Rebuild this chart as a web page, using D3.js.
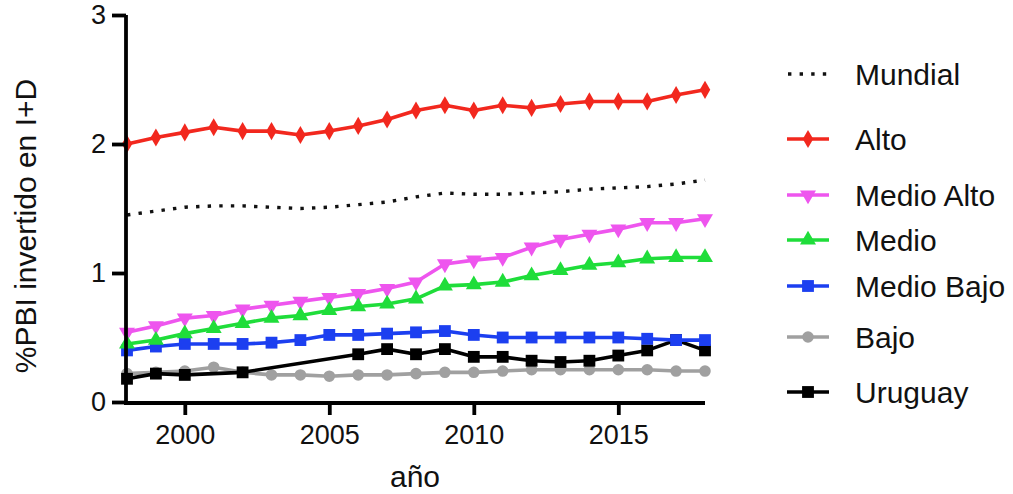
<!DOCTYPE html>
<html>
<head>
<meta charset="utf-8">
<script src="https://cdn.jsdelivr.net/npm/d3@7"></script>
<style>
  body { margin: 0; background: #fff; }
  text { font-family: "Liberation Sans", Arial, Helvetica, sans-serif; fill: #111; }
</style>
</head>
<body>
<svg id="chart" width="1013" height="494"></svg>
<script>
const years = [1998,1999,2000,2001,2002,2003,2004,2005,2006,2007,2008,2009,2010,2011,2012,2013,2014,2015,2016,2017,2018];
const mundial    = [1.45,1.48,1.51,1.52,1.52,1.51,1.50,1.51,1.53,1.55,1.59,1.62,1.61,1.61,1.62,1.63,1.65,1.66,1.67,1.69,1.72];
const alto       = [2.00,2.05,2.09,2.13,2.10,2.10,2.07,2.10,2.14,2.19,2.26,2.30,2.26,2.30,2.28,2.31,2.33,2.33,2.33,2.38,2.42];
const medioAlto  = [0.54,0.59,0.65,0.67,0.72,0.75,0.78,0.81,0.84,0.88,0.93,1.07,1.10,1.12,1.20,1.26,1.30,1.34,1.39,1.39,1.42];
const medio      = [0.45,0.48,0.53,0.57,0.61,0.65,0.67,0.71,0.74,0.76,0.80,0.90,0.91,0.93,0.98,1.02,1.06,1.08,1.11,1.12,1.12];
const medioBajo  = [0.40,0.43,0.45,0.45,0.45,0.46,0.48,0.52,0.52,0.53,0.54,0.55,0.52,0.50,0.50,0.50,0.50,0.50,0.49,0.48,0.48];
const bajo       = [0.22,0.23,0.24,0.27,0.23,0.21,0.21,0.20,0.21,0.21,0.22,0.23,0.23,0.24,0.25,0.25,0.25,0.25,0.25,0.24,0.24];
const uruguay    = [0.18,0.22,0.21,null,0.23,null,null,null,0.37,0.41,0.37,0.41,0.35,0.35,0.32,0.31,0.32,0.36,0.40,0.48,0.40];
const xTicks = [2000,2005,2010,2015];
const yTicks = [0,1,2,3];

const series = [
  {name:"Mundial",     values:mundial,   color:"#111111", symbol:null,               dotted:true},
  {name:"Alto",        values:alto,      color:"#f2281e", symbol:d3.symbolDiamond,   size:95, rot:0},
  {name:"Medio Alto",  values:medioAlto, color:"#ee55ee", symbol:d3.symbolTriangle,  size:110, rot:180},
  {name:"Medio",       values:medio,     color:"#1fdd3a", symbol:d3.symbolTriangle,  size:110, rot:0},
  {name:"Medio Bajo",  values:medioBajo, color:"#1c3ff0", symbol:d3.symbolSquare,    size:140, rot:0},
  {name:"Bajo",        values:bajo,      color:"#a0a0a0", symbol:d3.symbolCircle,    size:105, rot:0},
  {name:"Uruguay",     values:uruguay,   color:"#000000", symbol:d3.symbolSquare,    size:140, rot:0}
];
const drawOrder = ["Mundial","Bajo","Uruguay","Medio Bajo","Medio Alto","Medio","Alto"];

const svg = d3.select("#chart");
const x = d3.scaleLinear().domain([1998, 2018]).range([127, 705]);
const y = d3.scaleLinear().domain([0, 3]).range([402, 15]);

// lines & markers
const line = d3.line().x(d => x(d.year)).y(d => y(d.v));
drawOrder.forEach(n => {
  const s = series.find(q => q.name === n);
  const pts = years.map((yr, i) => ({year: yr, v: s.values[i]})).filter(d => d.v !== null);
  const g = svg.append("g");
  g.append("path").datum(pts)
    .attr("d", line)
    .attr("fill", "none")
    .attr("stroke", s.color)
    .attr("stroke-width", s.dotted ? 3.4 : 3.6)
    .attr("stroke-dasharray", s.dotted ? "3.4,8.2" : null)
    .attr("stroke-linejoin", "round");
  if (s.symbol) {
    g.selectAll("path.m").data(pts).enter().append("path")
      .attr("class", "m")
      .attr("d", d3.symbol().type(s.symbol).size(s.size))
      .attr("transform", d => `translate(${x(d.year)},${y(d.v)}) rotate(${s.rot})`)
      .attr("fill", s.color);
  }
});

// axes
const xAxis = svg.append("g").attr("transform", "translate(0,403)")
  .call(d3.axisBottom(x).tickValues(xTicks).tickFormat(d3.format("d")).tickSize(12).tickSizeOuter(0).tickPadding(10));
const yAxis = svg.append("g").attr("transform", "translate(126,0)")
  .call(d3.axisLeft(y).tickValues(yTicks).tickFormat(d3.format("d")).tickSize(14).tickSizeOuter(0).tickPadding(6));
[xAxis, yAxis].forEach(a => {
  a.selectAll("path, line").attr("stroke", "#000").attr("stroke-width", 3.8);
  a.selectAll("text").style("font-size", "27px").attr("fill", "#111");
});
xAxis.select(".domain").attr("d", "M124,0H705");
yAxis.select(".domain").attr("d", "M0,15V404.5");

// axis titles
svg.append("text").attr("x", 415).attr("y", 487).attr("text-anchor", "middle")
  .style("font-size", "30px").text("año");
svg.append("text").attr("transform", "translate(36,226) rotate(-90)").attr("text-anchor", "middle")
  .style("font-size", "30px").text("%PBI invertido en I+D");

// legend
const legendY = [74, 139, 195, 240, 286, 337, 392];
series.forEach((s, i) => {
  const g = svg.append("g").attr("transform", `translate(0,${legendY[i]})`);
  if (s.dotted) {
    g.append("line").attr("x1", 788).attr("x2", 828).attr("y1", 0).attr("y2", 0)
      .attr("stroke", s.color).attr("stroke-width", 3.4).attr("stroke-dasharray", "3.4,8.2");
  } else {
    g.append("line").attr("x1", 787).attr("x2", 829).attr("y1", 0).attr("y2", 0)
      .attr("stroke", s.color).attr("stroke-width", 3.6);
    g.append("path").attr("d", d3.symbol().type(s.symbol).size(s.size))
      .attr("transform", `translate(808,0) rotate(${s.rot})`).attr("fill", s.color);
  }
  g.append("text").attr("x", 855).attr("y", 0).attr("dy", "0.35em")
    .style("font-size", "30px").text(s.name);
});
</script>
</body>
</html>
